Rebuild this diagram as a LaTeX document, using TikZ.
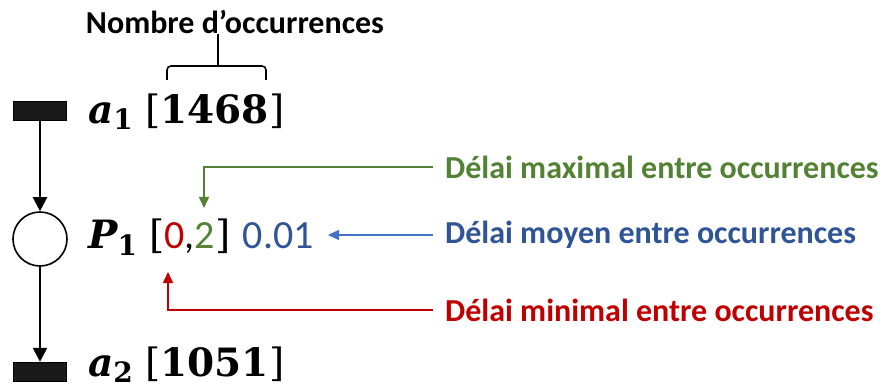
\documentclass[tikz,border=0pt]{standalone}
\usepackage{fontspec}
\setmainfont{Carlito}
\newfontfamily\serifmath{DejaVu Serif}
\usetikzlibrary{arrows.meta}

\definecolor{vert}{HTML}{548235}
\definecolor{bleu}{HTML}{2F5597}
\definecolor{bleuclair}{HTML}{4472C4}
\definecolor{rouge}{HTML}{C00000}

\newcommand{\var}[2]{{\bfseries\itshape #1}\raisebox{-6pt}{\fontsize{28}{30}\selectfont\bfseries #2}}

\tikzset{
  trans/.style={draw=black, fill=black!90, minimum width=53pt, minimum height=19pt, inner sep=0pt},
  place/.style={draw=black, line width=1.6pt, circle, minimum size=54pt, inner sep=0pt},
  arc/.style={line width=2.4pt, -{Triangle[length=14pt,width=14pt]}},
  fleche/.style={line width=1.5pt, -{Triangle[length=11pt,width=10pt]}},
  legende/.style={inner sep=0pt, anchor=west, font=\fontsize{32}{38}\selectfont\bfseries},
  etiq/.style={inner sep=0pt, anchor=base west, font=\fontsize{39}{46}\selectfont\serifmath}
}

\begin{document}
\begin{tikzpicture}[x=1pt, y=-1pt]
\useasboundingbox (0,0) rectangle (880,387);
\node[trans] (t1) at (40,110.5) {};
\node[place] (p1) at (40,239) {};
\node[trans] (t2) at (40,371.5) {};
\draw[arc] (t1) -- (p1);
\draw[arc] (p1) -- (t2);

\node[etiq] (l1) at (88,124) {\var{a}{1} [\textbf{1468}]};
\node[etiq] (lp) at (88,249) {\var{P}{1} [{\fontsize{40}{48}\selectfont\rmfamily\textcolor{rouge}{0},\textcolor{vert}{2}}] {\fontsize{40}{48}\selectfont\rmfamily\textcolor{bleu}{0.01}}};
\node[etiq] (l2) at (88,376) {\var{a}{2} [\textbf{1051}]};

\node[legende, anchor=center] (nb) at (235,22) {Nombre d’occurrences};
\draw[line width=1.6pt, rounded corners=4pt] (167,80) |- (218,66) -| (266,80);
\draw[line width=1.6pt] (218,66) -- (nb.south -| 218,0);

\node[legende, text=vert] (lmax) at (445,167) {Délai maximal entre occurrences};
\node[legende, text=bleu] (lmoy) at (445,235) {Délai moyen entre occurrences};
\node[legende, text=rouge] (lmin) at (445,310) {Délai minimal entre occurrences};

\coordinate (cmax) at (204,208);
\coordinate (cmoy) at (328,235);
\coordinate (cmin) at (168,272);
\draw[fleche, draw=vert] ([xshift=-12pt]lmax.west) -| (cmax);
\draw[fleche, draw=bleuclair] ([xshift=-12pt]lmoy.west) -- (cmoy);
\draw[fleche, draw=rouge] ([xshift=-12pt]lmin.west) -| (cmin);
\end{tikzpicture}
\end{document}
